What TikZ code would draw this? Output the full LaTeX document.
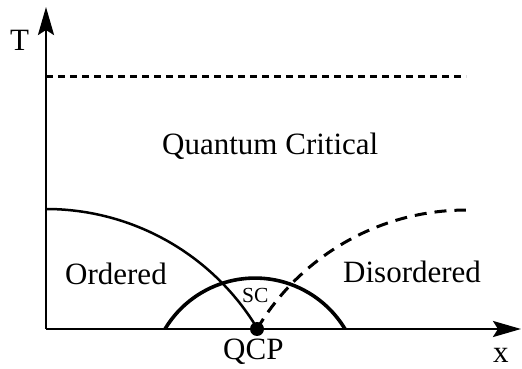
\documentclass[tikz,border=0pt]{standalone}
\usepackage{fontspec}
\setmainfont{Liberation Serif}
\usetikzlibrary{arrows.meta}
\begin{document}
\begin{tikzpicture}[x=1pt,y=1pt,
  lbl/.style={anchor=base west,inner sep=0pt,font=\fontsize{31}{36}\selectfont},
  axis/.style={line width=2.6pt,-{Stealth[length=28pt,width=16pt,inset=5pt]}}]
\useasboundingbox (0,0) rectangle (522,369);
\coordinate (o) at (46,40);
\coordinate (ytip) at (46,362);
\coordinate (xtip) at (521,40);
\coordinate (qcp) at (257,40);
\coordinate (ordstart) at (46,160);
\coordinate (scstart) at (165,40);
\coordinate (dotl) at (46,292);
\coordinate (dotr) at (466,292);
% critical line (dotted)
\draw[line width=3pt,dash pattern=on 7pt off 5pt] (dotl) -- (dotr);
% ordered boundary
\draw[line width=2.5pt] (ordstart) arc[start angle=90,end angle=31.2,radius=246.6];
% SC dome
\draw[line width=3.6pt] (scstart) arc[start angle=149,end angle=31,radius=105];
% disordered crossover (dashed)
\draw[line width=3pt,dash pattern=on 12pt off 8pt] (qcp) arc[start angle=149.3,end angle=90,radius=243];
% axes
\draw[axis] (o) -- (ytip);
\draw[axis] (o) -- (xtip);
\fill (qcp) circle[radius=7];
% labels
\node[lbl] (t) at (10,318) {T};
\node[lbl] (x) at (493,6) {x};
\node[lbl] (qcplbl) at (223,9) {QCP};
\node[lbl] (qc) at (162,214) {Quantum Critical};
\node[lbl] (ord) at (65,84) {Ordered};
\node[lbl] (dis) at (343,86) {Disordered};
\node[lbl,font=\fontsize{21.5}{24}\selectfont] (sc) at (242,66) {SC};
\end{tikzpicture}
\end{document}
